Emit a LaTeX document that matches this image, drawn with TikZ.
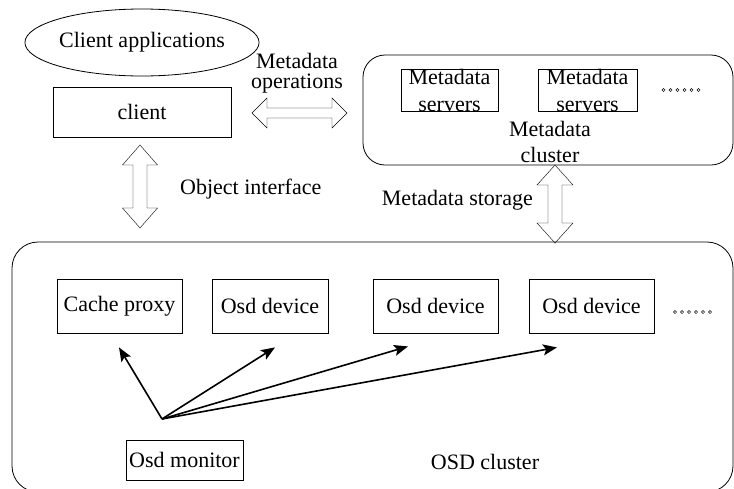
\documentclass[tikz,border=0pt]{standalone}
\usepackage{fontspec}
\setmainfont{Liberation Serif}
\usetikzlibrary{shapes.geometric,arrows.meta}
\newcommand\blockarrow[6]{%
\begin{scope}[shift={#1}, rotate=#2]
\draw[thin, fill=white] (-#3,0) -- (-#3+#4,#5) -- (-#3+#4,#6) -- (#3-#4,#6) -- (#3-#4,#5) -- (#3,0)
  -- (#3-#4,-#5) -- (#3-#4,-#6) -- (-#3+#4,-#6) -- (-#3+#4,-#5) -- cycle;
\end{scope}}
\begin{document}
\begin{tikzpicture}[x=1pt,y=-1pt,
  every node/.style={font=\fontsize{22}{26}\selectfont, inner sep=0pt},
  box/.style={draw, line width=0.8pt, rectangle},
  cluster/.style={draw, line width=0.8pt, rounded corners=22pt},
  ptr/.style={line width=1.6pt, -{Stealth[length=14pt,width=11pt,inset=3pt]}},
  dot/.style={line width=0.5pt}]
\useasboundingbox (0,0) rectangle (734,488);

% top left
\node[draw, line width=0.8pt, ellipse, minimum width=180pt, minimum height=67pt] (apps) at (142,42.5) {Client applications};
\node[box, minimum width=178pt, minimum height=50pt] (client) at (142,112) {client};

% metadata cluster
\node[cluster, minimum width=370pt, minimum height=110pt] (mdc) at (548,110) {};
\node[box, minimum width=97pt, minimum height=42pt] (ms1) at (449.5,90) {};
\node[align=center, font=\fontsize{22}{27}\selectfont] at (ms1) {Metadata\\servers};
\node[box, minimum width=99pt, minimum height=42pt] (ms2) at (587.5,90) {};
\node[align=center, font=\fontsize{22}{27}\selectfont] at (ms2) {Metadata\\servers};
\foreach \i in {0,...,5} \draw[dot] (663.5+\i*7,90) circle (1.6pt);
\node[align=center] (mdclabel) at (550,142) {Metadata\\cluster};

% labels and block arrows
\node[align=center, font=\fontsize{22}{20}\selectfont] (mdops) at (297,73) {Metadata\\operations};
\blockarrow{(299.5,113)}{0}{47.5}{15}{15}{5}
\blockarrow{(140,186.5)}{90}{41.5}{20}{17.5}{7}
\node[anchor=west] (objif) at (180,189) {Object interface};
\blockarrow{(555,204)}{90}{39}{20}{18}{7}
\node[anchor=east] (mdst) at (533,200) {Metadata storage};

% OSD cluster
\draw[line width=0.8pt, rounded corners=26pt] (12,242) rectangle (733,492);
\node[box, minimum width=125pt, minimum height=54pt] (cache) at (119.5,306) {Cache proxy};
\node[box, minimum width=116pt, minimum height=54pt] (osd1) at (270,306) {Osd device};
\node[box, minimum width=125pt, minimum height=54pt] (osd2) at (435.5,306) {Osd device};
\node[box, minimum width=125pt, minimum height=54pt] (osd3) at (591.5,306) {Osd device};
\foreach \i in {0,...,5} \draw[dot] (675+\i*7,312) circle (1.6pt);
\node[box, minimum width=117pt, minimum height=40pt] (mon) at (184.5,460) {Osd monitor};
\node (osdlabel) at (485,462) {OSD cluster};

\coordinate (src) at (162,419);
\coordinate (t1) at ([shift={(-0.5,14)}]cache.south);
\coordinate (t2) at ([shift={(5,14)}]osd1.south);
\coordinate (t3) at ([shift={(-27.5,13)}]osd2.south);
\coordinate (t4) at ([shift={(-34.5,14)}]osd3.south);
\foreach \t in {t1,t2,t3,t4} \draw[ptr] (src) -- (\t);
\end{tikzpicture}
\end{document}
